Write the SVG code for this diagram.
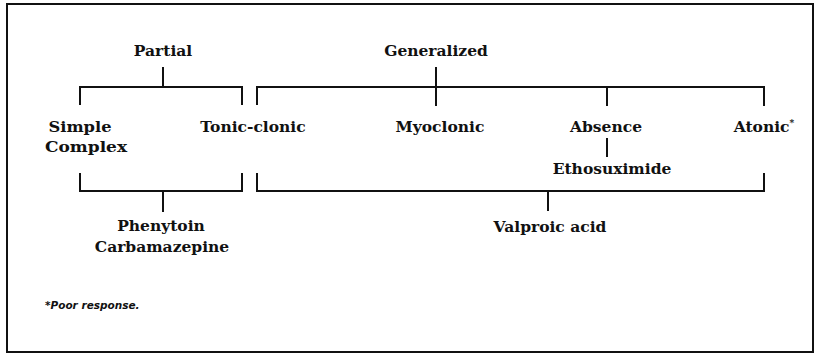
<svg xmlns="http://www.w3.org/2000/svg" width="818" height="360" viewBox="0 0 818 360">
<style>
.t{font-family:"DejaVu Serif","Liberation Serif",serif;font-weight:bold;font-size:15.5px;fill:#111;text-anchor:middle}
.ln{stroke:#111;stroke-width:2;fill:none}
.note{font-family:"DejaVu Sans","Liberation Sans",sans-serif;font-weight:bold;font-style:italic;font-size:10.5px;fill:#111}
</style>
<rect x="0" y="0" width="818" height="360" fill="#fff"/>
<rect x="7" y="4" width="806" height="348" class="ln"/>
<g id="connectors">
<path class="ln" d="M163 67V87M80 105V87H242V105"/>
<path class="ln" d="M436 67V106M257 105V87H764V106M607 87V106"/>
<path class="ln" d="M607 138V157"/>
<path class="ln" d="M80 173V191H242V173M163 191V212"/>
<path class="ln" d="M257 173V191H764V173M548 191V211"/>
</g>
<g id="partial"><text class="t" x="163" y="56">Partial</text></g>
<g id="generalized"><text class="t" x="436" y="56">Generalized</text></g>
<g id="simple-complex"><text class="t" x="80" y="132" textLength="63" lengthAdjust="spacingAndGlyphs">Simple</text><text class="t" x="86" y="152" textLength="82" lengthAdjust="spacingAndGlyphs">Complex</text></g>
<g id="tonic-clonic"><text class="t" x="253" y="132">Tonic-clonic</text></g>
<g id="myoclonic"><text class="t" x="440" y="132">Myoclonic</text></g>
<g id="absence"><text class="t" x="606" y="132">Absence</text></g>
<g id="atonic"><text class="t" x="764" y="132"><tspan>Atonic</tspan><tspan font-size="9" dy="-6">*</tspan></text></g>
<g id="ethosuximide"><text class="t" x="612" y="174">Ethosuximide</text></g>
<g id="phenytoin"><text class="t" x="161" y="231">Phenytoin</text><text class="t" x="162" y="252">Carbamazepine</text></g>
<g id="valproic"><text class="t" x="550" y="232">Valproic acid</text></g>
<g id="footnote"><text class="note" x="45" y="309">*Poor response.</text></g>
</svg>
